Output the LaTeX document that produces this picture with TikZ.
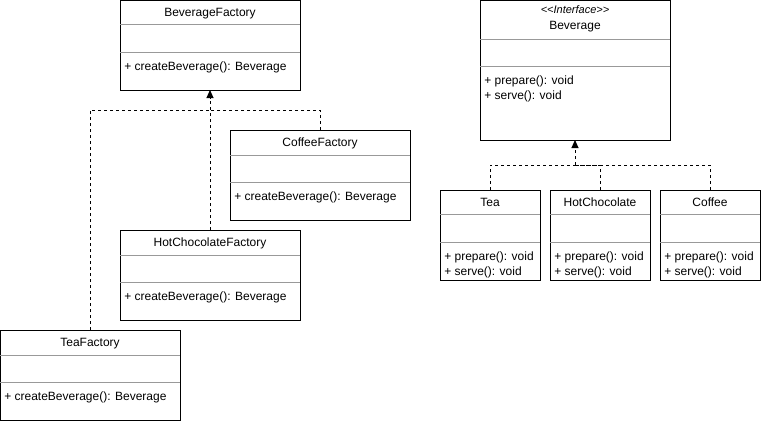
\documentclass[tikz,border=0pt]{standalone}
\usepackage{fontspec}
\setmainfont{Liberation Sans}
\usetikzlibrary{calc,arrows.meta}

\tikzset{
  classbox/.style={draw, line width=0.75pt, fill=white, anchor=north west, inner sep=0pt, outer sep=0pt},
  divider/.style={draw=black!40, line width=0.75pt},
  classname/.style={anchor=base, inner sep=0pt, font=\fontsize{9}{11}\selectfont},
  member/.style={anchor=base west, inner sep=0pt, font=\fontsize{9}{11}\selectfont},
  realize/.style={line width=0.75pt, dash pattern=on 2.25pt off 2.25pt},
  realizetip/.style={realize, -{Triangle[length=6pt,width=5.25pt]}}
}

% name, x, y, width, height, title baseline, divider 1, divider 2, members
\newcommand{\umlclass}[9]{%
  \node[classbox, minimum width=#4*0.75pt, minimum height=#5*0.75pt] (#1) at (#2,#3) {};
  \node[classname] (#1-name) at ($(#1.north)+(0,#6)$) {#1};
  \draw[divider] ($(#1.north west)+(0,#7)$) -- ($(#1.north east)+(0,#7)$);
  \draw[divider] ($(#1.north west)+(0,#8)$) -- ($(#1.north east)+(0,#8)$);
  \foreach \m [count=\i] in {#9} {
    \node[member] (#1-m\i) at ($(#1.north west)+(4,#8+18+15*\i-15)$) {\m};
  }
}

\begin{document}
\begin{tikzpicture}[x=0.75pt, y=-0.75pt]
  \useasboundingbox (0,0) rectangle (761,421);

  % Factories
  \umlclass{BeverageFactory}{120}{0}{180}{90}{16.5}{24}{52}{+ createBeverage(): Beverage}
  \umlclass{CoffeeFactory}{230}{130}{180}{90}{16.5}{25}{52}{+ createBeverage(): Beverage}
  \umlclass{HotChocolateFactory}{120}{230}{180}{90}{16.5}{25}{52}{+ createBeverage(): Beverage}
  \umlclass{TeaFactory}{0}{330}{180}{90}{16.5}{25}{52}{+ createBeverage(): Beverage}

  % Beverages
  \umlclass{Beverage}{480}{0}{190}{140}{29.5}{39}{66}{+ prepare(): void, + serve(): void}
  \node[anchor=base, inner sep=0pt, font=\fontsize{8.25}{10}\selectfont\itshape] (Beverage-stereo)
    at ($(Beverage.north)+(0,13.5)$) {{<}{<}Interface{>}{>}};
  \umlclass{Tea}{440}{190}{100}{90}{16.5}{24}{52}{+ prepare(): void, + serve(): void}
  \umlclass{HotChocolate}{550}{190}{100}{90}{16.5}{24}{52}{+ prepare(): void, + serve(): void}
  \umlclass{Coffee}{660}{190}{100}{90}{16.5}{24}{52}{+ prepare(): void, + serve(): void}

  % Factory realizations
  \coordinate (factoryjoint) at (210,110);
  \draw[realize] (TeaFactory.north) |- (factoryjoint);
  \draw[realize] (CoffeeFactory.north) |- (factoryjoint);
  \draw[realizetip] (HotChocolateFactory.north) -- (BeverageFactory.south);

  % Beverage realizations
  \coordinate (beveragejoint) at (575,165);
  \draw[realize] (Tea.north) |- (beveragejoint);
  \draw[realize] (HotChocolate.north) |- (beveragejoint);
  \draw[realize] (Coffee.north) |- (beveragejoint);
  \draw[realizetip] (beveragejoint) -- (Beverage.south);
\end{tikzpicture}
\end{document}
